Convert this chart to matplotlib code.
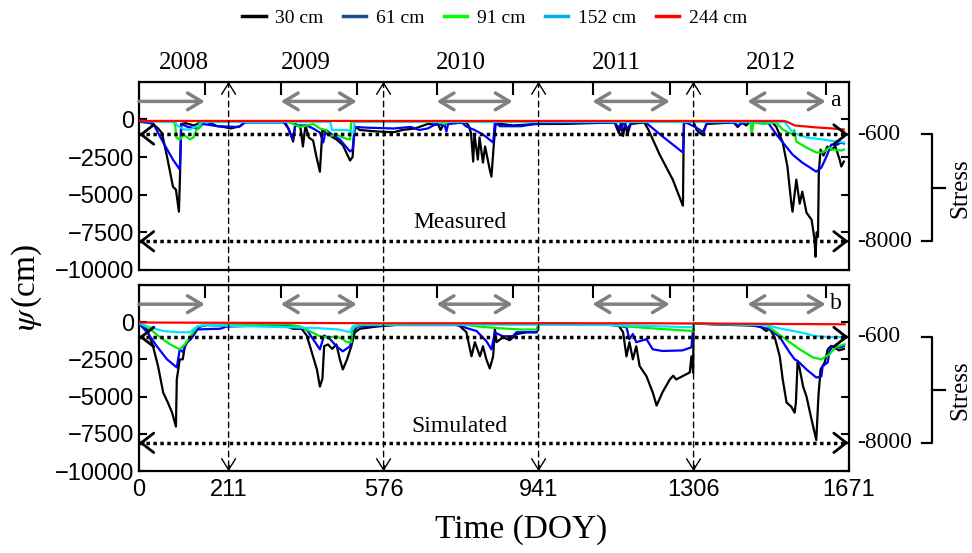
import matplotlib
matplotlib.use('Agg')
import matplotlib.pyplot as plt
import matplotlib.transforms as mtransforms
from matplotlib.lines import Line2D
from matplotlib.patches import ConnectionPatch

plt.rcParams['font.family'] = ['Liberation Serif', 'DejaVu Serif']
plt.rcParams['mathtext.fontset'] = 'stix'

#
# DATA  (day counted from 1 Jan 2008, psi in cm)
#
years = ['2008', '2009', '2010', '2011', '2012']
year_edges = [0, 211, 576, 941, 1306, 1671]
season_edges = [155, 334, 513, 701, 880, 1068, 1250, 1433, 1617]
stress_levels = [-1000, -8100]
stress_labels = ['-600', '-8000']
psi_ticks = [0, -2500, -5000, -7500, -10000]
depths = ['30 cm', '61 cm', '91 cm', '152 cm', '244 cm']

# measured
meas_30 = [(0, -150), (20, -200), (33, -300), (45, -600), (54, -900), (66, -2470), (80, -4470),
           (87, -4670), (94, -6130), (97, -3330), (99, -300), (110, -250), (130, -400), (145, -200),
           (160, -150), (185, -450), (200, -500), (215, -600), (238, -450), (250, -150), (340, -150),
           (352, -600), (363, -1470), (368, -300), (380, -500), (386, -1800), (392, -400), (400, -1200),
           (410, -1400), (418, -2500), (426, -3470), (432, -670), (445, -1000), (465, -1330),
           (480, -1700), (497, -2730), (503, -2500), (508, -470), (520, -700), (560, -800), (600, -850),
           (620, -700), (650, -600), (680, -300), (705, -350), (710, -700), (718, -300), (740, -250),
           (770, -200), (776, -400), (782, -900), (787, -2800), (790, -1000), (798, -2670), (802, -1200),
           (810, -2870), (815, -1800), (826, -3330), (830, -3800), (836, -1500), (840, -250), (880, -400),
           (941, -300), (1000, -300), (1120, -200), (1130, -900), (1135, -200), (1140, -1100),
           (1145, -200), (1150, -1000), (1158, -300), (1190, -200), (1200, -700), (1226, -2330),
           (1257, -4000), (1278, -5530), (1281, -5730), (1283, -200), (1306, -150), (1313, -700),
           (1325, -1000), (1337, -300), (1400, -200), (1410, -500), (1420, -200), (1430, -400),
           (1438, -150), (1490, -150), (1501, -500), (1516, -1530), (1527, -3130), (1536, -5530),
           (1539, -6130), (1548, -4000), (1556, -5600), (1562, -4800), (1572, -6200), (1584, -6670),
           (1591, -8000), (1593, -9130), (1596, -7500), (1599, -7800), (1601, -3530), (1605, -2000),
           (1612, -2400), (1621, -1800), (1630, -2000), (1640, -1800), (1650, -2670), (1654, -3130),
           (1660, -2800)]
meas_61 = [(0, -150), (33, -250), (57, -1530), (80, -2670), (96, -3330), (100, -300), (115, -500),
           (140, -600), (150, -300), (185, -450), (235, -500), (250, -200), (345, -200), (363, -1330),
           (368, -400), (395, -400), (410, -600), (426, -870), (434, -1530), (440, -700), (455, -1000),
           (473, -1330), (497, -2130), (503, -2000), (508, -500), (540, -550), (600, -600), (640, -500),
           (660, -700), (680, -600), (700, -300), (720, -400), (724, -800), (728, -300), (760, -200),
           (770, -450), (790, -700), (810, -1000), (834, -1530), (838, -200), (850, -450), (900, -450),
           (941, -250), (1120, -200), (1135, -700), (1140, -200), (1150, -600), (1160, -200),
           (1191, -150), (1236, -1200), (1281, -2200), (1284, -150), (1310, -500), (1330, -870),
           (1337, -200), (1400, -200), (1410, -400), (1425, -200), (1480, -150), (1501, -1000),
           (1539, -2330), (1562, -2870), (1595, -3470), (1607, -3200), (1619, -2470), (1630, -1670),
           (1642, -1700), (1654, -1530), (1660, -1600)]
meas_91 = [(0, -100), (80, -150), (85, -300), (88, -1200), (96, -1330), (105, -1000), (120, -1330),
           (128, -1200), (135, -700), (144, -500), (148, -150), (350, -150), (380, -500), (410, -300),
           (426, -600), (440, -700), (450, -1100), (465, -1000), (480, -1200), (490, -1300),
           (497, -1330), (500, -150), (700, -150), (720, -300), (730, -150), (1440, -150),
           (1443, -1000), (1447, -200), (1470, -300), (1500, -200), (1516, -670), (1539, -1000),
           (1543, -700), (1548, -1470), (1572, -1870), (1595, -2200), (1610, -2200), (1626, -1870),
           (1633, -2000), (1654, -2070), (1660, -2000)]
meas_152 = [(0, -100), (85, -150), (90, -400), (106, -670), (120, -670), (140, -400), (146, -150),
            (450, -150), (455, -700), (490, -700), (505, -870), (508, -150), (1520, -150),
            (1535, -700), (1539, -870), (1572, -1200), (1610, -1330), (1633, -1430), (1660, -1530)]
meas_244 = [(0, -100), (1520, -100), (1530, -200), (1544, -400), (1595, -530), (1634, -600),
            (1660, -670)]

# simulated
sim_30 = [(0, -50), (19, -470), (33, -1620), (45, -2970), (57, -4730), (68, -5400), (78, -6080),
          (87, -7010), (89, -3850), (96, -2500), (103, -2500), (108, -1620), (115, -1300),
          (120, -1200), (127, -950), (137, -500), (144, -300), (160, -200), (211, -250), (280, -150),
          (339, -200), (363, -450), (383, -450), (395, -900), (407, -2030), (419, -3180),
          (426, -4330), (432, -3800), (436, -1620), (445, -1500), (455, -1800), (465, -1500),
          (473, -2500), (480, -3180), (490, -2500), (500, -1620), (508, -700), (520, -450),
          (560, -300), (620, -150), (740, -150), (755, -250), (771, -680), (783, -2300),
          (791, -1350), (803, -2300), (810, -1620), (818, -2500), (826, -3110), (834, -2300),
          (838, -470), (842, -1350), (857, -1010), (873, -1220), (889, -800), (913, -680),
          (937, -680), (941, -100), (1100, -150), (1130, -250), (1140, -680), (1148, -2300),
          (1155, -1350), (1163, -2500), (1171, -1620), (1179, -2950), (1195, -3630), (1210, -4730),
          (1219, -5600), (1233, -4700), (1250, -3850), (1258, -3600), (1265, -3850), (1280, -3630),
          (1297, -3380), (1301, -2300), (1305, -3400), (1306, -100), (1400, -200), (1461, -250),
          (1477, -600), (1485, -450), (1497, -1010), (1509, -2300), (1516, -3850), (1525, -5400),
          (1536, -5670), (1544, -6080), (1547, -5400), (1551, -2700), (1555, -3000), (1564, -4330),
          (1572, -5000), (1584, -6560), (1595, -7910), (1600, -5000), (1605, -3180), (1615, -2700),
          (1622, -1830), (1630, -1600), (1638, -1700), (1648, -1900), (1660, -1800)]
sim_61 = [(0, -100), (19, -680), (42, -1620), (66, -2500), (89, -3040), (96, -1830), (103, -2000),
          (113, -1350), (125, -1000), (137, -500), (160, -470), (191, -450), (207, -300), (340, -200),
          (363, -300), (395, -500), (410, -1150), (426, -1830), (436, -900), (450, -1150),
          (465, -1620), (480, -1960), (497, -1620), (503, -700), (515, -300), (600, -200),
          (755, -200), (771, -400), (795, -600), (818, -1280), (830, -1830), (838, -700),
          (857, -950), (880, -950), (889, -680), (937, -680), (941, -100), (1120, -200),
          (1148, -350), (1155, -1150), (1163, -800), (1171, -1350), (1195, -1150), (1210, -1830),
          (1233, -1940), (1280, -1900), (1301, -1690), (1306, -100), (1440, -200), (1485, -470),
          (1509, -1010), (1532, -2030), (1544, -2500), (1551, -2600), (1572, -3180), (1595, -3720),
          (1607, -3650), (1610, -2970), (1622, -2700), (1626, -1960), (1633, -1620), (1650, -1700),
          (1660, -1620)]
sim_91 = [(0, -50), (26, -470), (49, -1010), (73, -1490), (96, -1830), (108, -1500), (120, -1000),
          (137, -300), (160, -200), (350, -150), (380, -300), (426, -950), (445, -1050), (465, -950),
          (480, -1150), (489, -1350), (500, -1350), (503, -400), (520, -200), (755, -150),
          (800, -300), (842, -400), (900, -500), (940, -500), (941, -100), (1100, -150),
          (1150, -300), (1200, -400), (1250, -500), (1305, -600), (1306, -100), (1477, -200),
          (1516, -1010), (1556, -1830), (1587, -2370), (1607, -2500), (1626, -2160), (1640, -1700),
          (1662, -1490)]
sim_152 = [(0, -50), (20, -300), (57, -600), (89, -680), (120, -680), (137, -300), (150, -200),
           (420, -400), (470, -500), (497, -680), (503, -300), (520, -150), (1120, -200),
           (1305, -350), (1306, -100), (1477, -200), (1516, -470), (1556, -680), (1595, -950),
           (1633, -1010), (1662, -1010)]
sim_244 = [(0, -30), (600, -80), (1200, -80), (1662, -150)]

line_colors = ['black', '#0000ff', '#00ee00', '#00e5ff', '#ff0000']
legend_colors = ['black', '#1f4e8c', '#00ff00', '#00b0f0', '#ff0000']


def draw_panel(ax, series, tag, name, name_y):
    for s, c in zip(series, line_colors):
        ax.plot([p[0] for p in s], [p[1] for p in s], color=c, lw=1.6, zorder=3)
    ax.set_xlim(year_edges[0], year_edges[-1])
    ax.set_ylim(-10000, 2500)
    ax.set_yticks(psi_ticks)
    ax.tick_params(axis='y', direction='in', left=True, right=True, length=6, width=1.5,
                   labelsize=17)
    for lab in ax.get_yticklabels():
        lab.set_family('Liberation Sans')
    for sp in ax.spines.values():
        sp.set_linewidth(1.6)

    # season marks on the top edge
    sec = ax.secondary_xaxis('top')
    sec.set_xticks(season_edges)
    sec.tick_params(direction='in', length=9, width=1.5, labeltop=False)

    # gray growing-season arrows
    ax.annotate('', xy=(season_edges[0], 1200), xytext=(0, 1200),
                arrowprops=dict(arrowstyle='->,head_length=0.5,head_width=0.3', color='#808080',
                                lw=2.5, shrinkA=0, shrinkB=0, mutation_scale=20))
    for a, b in zip(season_edges[1::2], season_edges[2::2]):
        ax.annotate('', xy=(b, 1200), xytext=(a, 1200),
                    arrowprops=dict(arrowstyle='<->,head_length=0.5,head_width=0.3',
                                    color='#808080', lw=2.5, shrinkA=0, shrinkB=0,
                                    mutation_scale=20))

    # stress thresholds
    trans = mtransforms.blended_transform_factory(ax.transAxes, ax.transData)
    for y, lab in zip(stress_levels, stress_labels):
        ax.plot([0, 1671], [y, y], color='black', lw=2.5, ls=(0, (1, 1)), zorder=4)
        ax.annotate('', xy=(0, y), xytext=(10, y),
                    arrowprops=dict(arrowstyle='->,head_length=0.45,head_width=0.35',
                                    color='black', lw=2, shrinkA=0, shrinkB=0, mutation_scale=20))
        ax.annotate('', xy=(1671, y), xytext=(1661, y),
                    arrowprops=dict(arrowstyle='->,head_length=0.45,head_width=0.35',
                                    color='black', lw=2, shrinkA=0, shrinkB=0, mutation_scale=20))
        ax.text(1.012, y, lab, transform=trans, ha='left', va='center', fontsize=17)
    y0, y1 = stress_levels
    ax.plot([1.103, 1.118, 1.118, 1.103], [y0, y0, y1, y1], transform=trans, color='black',
            lw=1.6, clip_on=False)
    ym = (y0 + y1) / 2
    ax.plot([1.118, 1.136], [ym, ym], transform=trans, color='black', lw=1.6, clip_on=False)
    ax.text(1.158, ym, 'Stress', transform=trans, rotation=90, ha='center', va='center',
            fontsize=18)

    ax.text(0.982, 0.9, tag, transform=ax.transAxes, ha='center', va='center', fontsize=17)
    ax.text(0.452, name_y, name, transform=ax.transAxes, ha='center', va='center', fontsize=17)


fig = plt.figure(figsize=(9.72, 5.53), dpi=100)
ax1 = fig.add_axes([0.143, 0.512, 0.730, 0.340])
ax2 = fig.add_axes([0.143, 0.148, 0.730, 0.337])

draw_panel(ax1, [meas_30, meas_61, meas_91, meas_152, meas_244], 'a', 'Measured', 0.25)
draw_panel(ax2, [sim_30, sim_61, sim_91, sim_152, sim_244], 'b', 'Simulated', 0.237)

ax1.set_xticks([])
ax2.set_xticks(year_edges)
ax2.tick_params(axis='x', direction='in', length=4, width=1.5, labelsize=17, pad=6)
for lab in ax2.get_xticklabels():
    lab.set_family('Liberation Sans')

# year names above the top panel
ytrans = mtransforms.blended_transform_factory(ax1.transData, ax1.transAxes)
for i, yr in enumerate(years):
    ax1.text((year_edges[i] + year_edges[i + 1]) / 2, 1.10, yr, transform=ytrans,
             ha='center', va='center', fontsize=18)

# year boundaries running through both panels
for d in year_edges[1:-1]:
    con = ConnectionPatch(xyA=(d, 2500), coordsA=ax1.transData, xyB=(d, -10000),
                          coordsB=ax2.transData, color='black', lw=1, ls=(0, (4, 3)),
                          arrowstyle='-', zorder=5)
    fig.add_artist(con)
    ax1.annotate('', xy=(d, 2500), xytext=(d, 2300),
                 arrowprops=dict(arrowstyle='->,head_length=0.4,head_width=0.25', color='black',
                                 lw=1, shrinkA=0, shrinkB=0, mutation_scale=20))
    ax2.annotate('', xy=(d, -10000), xytext=(d, -9800),
                 arrowprops=dict(arrowstyle='->,head_length=0.4,head_width=0.25', color='black',
                                 lw=1, shrinkA=0, shrinkB=0, mutation_scale=20))

handles = [Line2D([], [], color=c, lw=2.5) for c in legend_colors]
fig.legend(handles, depths, loc='center', bbox_to_anchor=(0.509, 0.968), ncol=5, frameon=False,
           fontsize=14, handlelength=1.2, handletextpad=0.5, columnspacing=1.0)

fig.text(0.028, 0.481, r'$\psi\,$(cm)', rotation=90, ha='center', va='center', fontsize=24)
fig.text(0.536, 0.042, 'Time (DOY)', ha='center', va='center', fontsize=24)

fig.savefig('out.png', dpi=100)
